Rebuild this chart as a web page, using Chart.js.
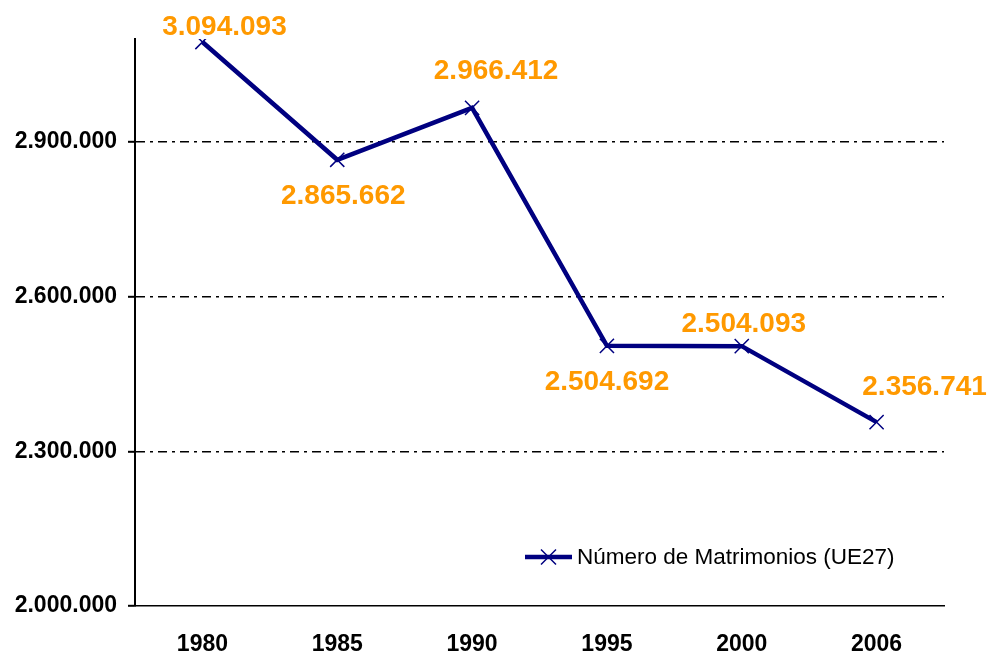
<!DOCTYPE html>
<html>
<head>
<meta charset="utf-8">
<script src="https://cdn.jsdelivr.net/npm/chart.js@4"></script>
<style>
  html, body { margin: 0; padding: 0; background: #fff; }
  #wrap { width: 988px; height: 653px; }
</style>
</head>
<body>
<div id="wrap"><canvas id="c" width="988" height="653"></canvas></div>
<script>
const categories = ['1980', '1985', '1990', '1995', '2000', '2006'];
const seriesName = 'Número de Matrimonios (UE27)';
const matrimonios = [3094093, 2865662, 2966412, 2504692, 2504093, 2356741];
const yTickValues = [2000000, 2300000, 2600000, 2900000];

// label offsets (style only), relative to each point
const labelOffsets = [[22, -15], [6, 36], [24, -37], [0, 36], [2, -22], [48, -35]];

const fmt = v => Math.round(v).toString().replace(/\B(?=(\d{3})+(?!\d))/g, '.');

const valueLabels = {
  id: 'valueLabels',
  afterDatasetsDraw(chart) {
    const ctx = chart.ctx;
    const meta = chart.getDatasetMeta(0);
    ctx.save();
    ctx.font = 'bold 28px "Liberation Sans", Arial, sans-serif';
    ctx.fillStyle = '#FF9900';
    ctx.textAlign = 'center';
    ctx.textBaseline = 'middle';
    meta.data.forEach((pt, i) => {
      const o = labelOffsets[i];
      ctx.fillText(fmt(chart.data.datasets[0].data[i]), pt.x + o[0], pt.y + o[1]);
    });
    ctx.restore();
  }
};

const innerLegend = {
  id: 'innerLegend',
  afterDraw(chart) {
    const ctx = chart.ctx;
    const ds = chart.data.datasets[0];
    const x0 = 525, x1 = 572, y = 557;
    ctx.save();
    ctx.strokeStyle = ds.borderColor;
    ctx.lineWidth = 4.5;
    ctx.beginPath(); ctx.moveTo(x0, y); ctx.lineTo(x1, y); ctx.stroke();
    const cx = (x0 + x1) / 2, r = 7.5;
    ctx.lineWidth = 1.5;
    ctx.beginPath();
    ctx.moveTo(cx - r, y - r); ctx.lineTo(cx + r, y + r);
    ctx.moveTo(cx + r, y - r); ctx.lineTo(cx - r, y + r);
    ctx.stroke();
    ctx.fillStyle = '#000';
    ctx.font = '22.5px "Liberation Sans", Arial, sans-serif';
    ctx.textAlign = 'left';
    ctx.textBaseline = 'middle';
    ctx.fillText(ds.label, 577, y + 1);
    ctx.restore();
  }
};

new Chart(document.getElementById('c'), {
  type: 'line',
  data: {
    labels: categories,
    datasets: [{
      label: seriesName,
      data: matrimonios,
      borderColor: '#000080',
      backgroundColor: '#000080',
      borderWidth: 4.5,
      tension: 0,
      pointStyle: 'crossRot',
      pointRadius: 10,
      pointBorderWidth: 1.5,
      pointBorderColor: '#000080',
      pointHoverRadius: 10
    }]
  },
  options: {
    responsive: false,
    animation: false,
    events: [],
    layout: { padding: { top: 39, right: 44, left: 0, bottom: 0 } },
    plugins: { legend: { display: false }, tooltip: { enabled: false }, title: { display: false } },
    scales: {
      x: {
        type: 'category',
        offset: true,
        grid: { display: false, drawTicks: false, tickLength: 0 },
        border: { display: true, color: '#000', width: 1.5 },
        ticks: {
          color: '#000',
          font: { family: '"Liberation Sans", Arial, sans-serif', size: 23, weight: 'bold' },
          padding: 25,
          maxRotation: 0
        },
        afterFit(scale) { scale.height = 47; }
      },
      y: {
        min: 2000000,
        max: 3100000,
        ticks: {
          stepSize: 300000,
          color: '#000',
          padding: 11,
          font: { family: '"Liberation Sans", Arial, sans-serif', size: 23, weight: 'bold' },
          callback: v => fmt(v)
        },
        afterBuildTicks(scale) {
          scale.ticks = yTickValues.map(v => ({ value: v }));
        },
        grid: {
          color: ctx => (ctx.tick && ctx.tick.value === 2000000) ? 'rgba(0,0,0,0)' : '#000',
          lineWidth: 1.6,
          tickColor: '#000',
          tickLength: 7,
          tickWidth: 2
        },
        border: { display: true, color: '#000', width: 2, dash: [9, 5, 3, 5] },
        afterFit(scale) { scale.width = 135; }
      }
    }
  },
  plugins: [valueLabels, innerLegend]
});
</script>
</body>
</html>
